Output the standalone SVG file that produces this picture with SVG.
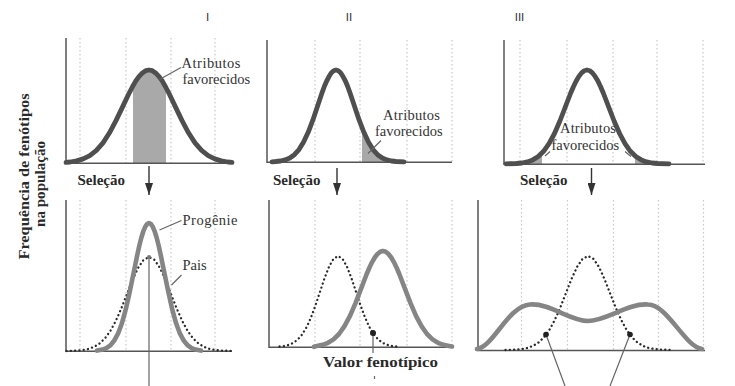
<svg xmlns="http://www.w3.org/2000/svg" width="735" height="386" viewBox="0 0 735 386">
<defs>
<style>
.ax{stroke:#555;stroke-width:1.5;fill:none}
.grid{stroke:#c9c9c9;stroke-width:1.2;stroke-dasharray:1.5 2.5;fill:none}
.top{stroke:#4f4f4f;stroke-width:4.8;fill:none;stroke-linejoin:round;stroke-linecap:round}
.sol{stroke:#858585;stroke-width:4.6;fill:none;stroke-linejoin:round;stroke-linecap:round}
.dot{stroke:#2a2a2a;stroke-width:2.3;stroke-dasharray:0.1 4.2;stroke-linecap:round;fill:none}
.shade{fill:#a9a9a9}
.lead{stroke:#666;stroke-width:1.2;fill:none}
.lbl{font-family:"Liberation Serif","Times New Roman",serif;font-size:14.5px;fill:#333}
.b{font-weight:bold;font-size:15px;fill:#2a2a2a}
.num{font-family:"Liberation Sans",Arial,sans-serif;font-size:11.5px;fill:#333;text-anchor:middle}
.arr{stroke:#333;stroke-width:1.4;fill:none}
</style>
<marker id="ah" viewBox="0 0 12 8" markerUnits="userSpaceOnUse" markerWidth="12" markerHeight="8" refX="12" refY="4" orient="auto">
<path d="M0,0 L12,4 L0,8 z" fill="#333"/>
</marker>
</defs>
<rect width="735" height="386" fill="#fff"/>

<g id="titles">
<text class="num" x="207.5" y="21">I</text>
<text class="num" x="349" y="21" fill="#4a1a1a">II</text>
<text class="num" x="519.5" y="21">III</text>
</g>

<g id="y-label">
<text class="lbl b" transform="translate(29,176.5) rotate(-90)" text-anchor="middle" font-size="16" textLength="166" lengthAdjust="spacingAndGlyphs">Frequência de fenótipos</text>
<text class="lbl b" transform="translate(44.5,184) rotate(-90)" text-anchor="middle" font-size="16" textLength="86" lengthAdjust="spacingAndGlyphs">na população</text>
</g>

<g id="panel-I-top">
<path class="grid" d="M80,38V163 M126,38V163 M171,38V163 M215,38V163"/>
<path class="shade" d="M133,163 L133,85.7 135.8,80.9 139.1,76.3 142.4,72.9 145.7,70.7 149,70 152.3,70.7 155.6,72.9 158.9,76.3 162.2,80.9 165.4,86.5 166,87.5 166,163 Z"/>
<path class="ax" d="M66,38 V163.3 H232"/>
<path class="top" d="M66,162.4 L70.1,162 76.7,160.9 83.2,158.9 89.8,155.6 96.4,150.4 103,142.9 109.5,132.8 116.1,120.4 122.7,106.6 129.3,92.8 132.6,86.5 135.8,80.9 139.1,76.3 142.4,72.9 145.7,70.7 149,70 152.3,70.7 155.6,72.9 158.9,76.3 162.2,80.9 165.4,86.5 168.7,92.8 175.3,106.6 181.9,120.4 188.5,132.8 195,142.9 201.6,150.4 208.2,155.6 214.8,158.9 221.3,160.9 227.9,162 232,162.4"/>
<text class="lbl" x="181.5" y="67.5" textLength="59" lengthAdjust="spacing">Atributos</text>
<text class="lbl" x="182.5" y="83.5">favorecidos</text>
<text class="lbl b" x="77.5" y="184.5">Seleção</text>
</g>

<g id="panel-II-top">
<path class="grid" d="M315,40V162 M360,40V162 M407,40V162 M452,40V162"/>
<path class="shade" d="M362,162 L362,127.7 363.8,132.1 368.4,142.1 373,149.6 377.6,154.7 382.3,158 386.9,159.9 391.5,161 396.1,161.5 400,162 Z"/>
<path class="ax" d="M267,40 V162.3 H452"/>
<path class="top" d="M272,161.8 L275.9,161.5 280.5,161 285.1,159.9 289.8,158 294.4,154.7 299,149.6 303.6,142.1 308.3,132.1 312.9,119.9 317.5,106.2 322.1,92.6 324.4,86.3 326.8,80.8 329.1,76.3 331.4,72.8 333.7,70.7 336,70 338.3,70.7 340.6,72.8 342.9,76.3 345.3,80.8 347.6,86.3 349.9,92.6 354.5,106.2 359.1,119.9 363.8,132.1 368.4,142.1 373,149.6 377.6,154.7 382.3,158 386.9,159.9 391.5,161 396.1,161.5 404,161.8"/>
<text class="lbl" x="383" y="119.5" textLength="57" lengthAdjust="spacing">Atributos</text>
<text class="lbl" x="375" y="135.5">favorecidos</text>
<text class="lbl b" x="273" y="184.5">Seleção</text>
</g>

<g id="panel-III-top">
<path class="grid" d="M520,40V164 M567,40V164 M613,40V164 M657,40V164 M703,40V164"/>
<path class="shade" d="M504,164 L516.5,163.5 521.9,163 527.3,161.9 532.8,159.9 538.2,156.5 542,153 542,164 Z"/>
<path class="shade" d="M635,164 L635,155.9 635.8,156.5 641.3,159.9 646.7,161.9 652.1,163 657.5,163.5 670,164 Z"/>
<path class="ax" d="M504,40 V164.3 H705"/>
<path class="top" d="M506,163.8 L516.5,163.5 521.9,163 527.3,161.9 532.8,159.9 538.2,156.5 543.6,151.3 549,143.7 554.5,133.5 559.9,121 565.3,107 570.7,93 573.4,86.7 576.2,81 578.9,76.4 581.6,72.9 584.3,70.7 587,70 589.7,70.7 592.4,72.9 595.1,76.4 597.9,81 600.6,86.7 603.3,93 608.7,107 614.1,121 619.6,133.5 625,143.7 630.4,151.3 635.8,156.5 641.3,159.9 646.7,161.9 652.1,163 657.5,163.5 669,163.8"/>
<text class="lbl" x="560" y="133" textLength="56" lengthAdjust="spacing">Atributos</text>
<text class="lbl" x="551.5" y="149.5">favorecidos</text>
<text class="lbl b" x="520" y="184.5">Seleção</text>
</g>

<g id="panel-I-bottom">
<path class="grid" d="M80,200V351 M126,200V351 M171,200V351 M215,200V351"/>
<path class="ax" d="M66,200 V351.3 H232"/>
<path class="dot" d="M66.5,351 L77.5,350.5 83,350 88.5,348.9 94,346.9 99.5,343.5 105,338.3 110.5,330.7 116,320.5 121.5,308 127,294 132.5,280 138,268 143.5,259.9 149,257 154.5,259.9 160,268 165.5,280 171,294 176.5,308 182,320.5 187.5,330.7 193,338.3 198.5,343.5 204,346.9 209.5,348.9 215,350 220.5,350.5 231.5,351"/>
<path class="sol" d="M97,350.6 L98.6,350.3 102.5,349.6 106.4,348.1 110.25,345.4 114.1,340.8 118,333.7 121.9,323.3 125.75,309.4 129.6,292.4 133.5,273.4 137.4,254.4 139.3,245.7 141.25,238 143.2,231.7 145.1,227.1 147.1,224 149,223 150.9,224 152.9,227.1 154.8,231.7 156.75,238 158.7,245.7 160.6,254.4 164.5,273.4 168.4,292.4 172.25,309.4 176.1,323.3 180,333.7 183.9,340.8 187.75,345.4 191.6,348.1 195.5,349.6 199.4,350.3 201,350.6"/>
<path class="lead" d="M149,257 V386" stroke="#777"/>
<circle cx="149" cy="257" r="2" fill="#777"/>
<text class="lbl" x="182.5" y="224.5" textLength="55" lengthAdjust="spacing">Progênie</text>
<text class="lbl" x="182.5" y="269.5">Pais</text>
</g>

<g id="panel-II-bottom">
<path class="grid" d="M315,200V347 M360,200V347 M407,200V347 M452,200V347"/>
<path class="ax" d="M269,200 V347.3 H452"/>
<path class="dot" d="M279.5,346.5 L284,346 288.5,344.9 293,343 297.5,339.8 302,334.7 306.5,327.3 311,317.5 315.5,305.3 320,291.8 324.5,278.3 329,266.7 333.5,258.8 338,256 342.5,258.8 347,266.7 351.5,278.3 356,291.8 360.5,305.3 365,317.5 369.5,327.3 374,334.7 378.5,339.8 383,343 387.5,344.9 392,346 396.5,346.5"/>
<path class="sol" d="M314,346.8 L317,345.9 322.5,344.8 328,342.8 333.5,339.4 339,334 344.5,326.2 350,315.8 355.5,303.1 361,288.8 366.5,274.5 369.25,268 372,262.3 374.75,257.5 377.5,254 380.25,251.75 383,251 385.75,251.75 388.5,254 391.25,257.5 394,262.3 396.75,268 399.5,274.5 405,288.8 410.5,303.1 416,315.8 421.5,326.2 427,334 432.5,339.4 438,342.8 443.5,344.8 449,345.9 452,346.5"/>
<path class="lead" d="M373,333 V353 M374.5,376 V379"/>
<circle cx="373" cy="333" r="3" fill="#222"/>
<text class="lbl b" x="323" y="367" font-size="16" textLength="115" lengthAdjust="spacingAndGlyphs">Valor fenotípico</text>
</g>

<g id="panel-III-bottom">
<path class="grid" d="M521.5,200V350 M567.5,200V350 M613.5,200V350 M658.5,200V350 M703.5,200V350"/>
<path class="ax" d="M478,200 V350.5 H705"/>
<path class="dot" d="M505.5,350 L516.5,349.5 522,349 527.5,347.9 533,345.9 538.5,342.5 544,337.3 549.5,329.7 555,319.5 560.5,307 566,293 571.5,279 577,267 582.5,258.9 588,256 593.5,258.9 599,267 604.5,279 610,293 615.5,307 621,319.5 626.5,329.7 632,337.3 637.5,342.5 643,345.9 648.5,347.9 654,349 659.5,349.5 670.5,350"/>
<path class="sol" d="M477,349 C494,346 508,306 530,304.5 C550,303 570,321 588,321 C606,321 628,303 648,304.5 C668,305 684,346 702,349"/>
<path class="lead" d="M546,334.5 L565,386 M630,334.5 L610,386"/>
<circle cx="546" cy="334.5" r="2.8" fill="#222"/>
<circle cx="630" cy="334.5" r="2.8" fill="#222"/>
</g>

<g id="connectors">
<path class="lead" d="M159.5,79.5 L181,67.5"/>
<path class="lead" d="M368,153.5 L381,140.5"/>
<path class="lead" d="M545,156 L550,151.5 M625,151.5 L631,156.5"/>
<path class="lead" d="M159.5,230 L181.5,220.5"/>
<path class="lead" d="M171.5,285 L181.5,275"/>
<path class="arr" d="M149,166 V195" marker-end="url(#ah)"/>
<path class="arr" d="M337,168 V195" marker-end="url(#ah)"/>
<path class="arr" d="M591.5,168 V195" marker-end="url(#ah)"/>
</g>
</svg>
